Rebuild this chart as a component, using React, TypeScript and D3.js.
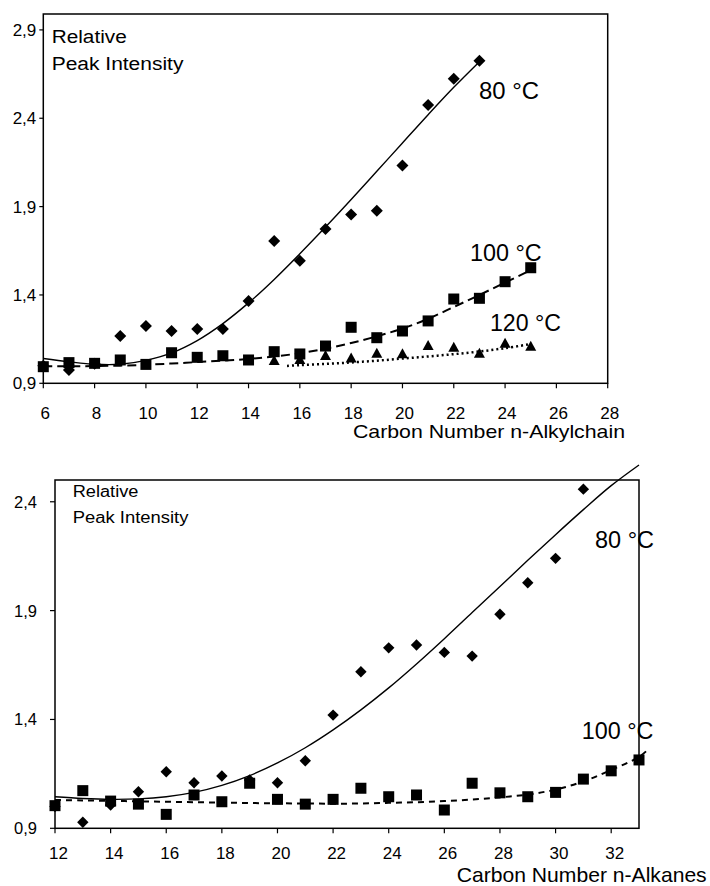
import React from "react";
import * as d3 from "d3";

// ---------- Top chart data (n-Alkylchain) ----------
const topX80 = [6, 7, 8, 9, 10, 11, 12, 13, 14, 15, 16, 17, 18, 19, 20, 21, 22, 23];
const top80 = [1.0, 0.975, 1.01, 1.168, 1.224, 1.196, 1.207, 1.207, 1.366, 1.706, 1.594, 1.773, 1.856, 1.876, 2.132, 2.475, 2.623, 2.725];
const topX100 = [6, 7, 8, 9, 10, 11, 12, 13, 14, 15, 16, 17, 18, 19, 20, 21, 22, 23, 24, 25];
const top100 = [0.994, 1.017, 1.013, 1.032, 1.007, 1.073, 1.047, 1.056, 1.032, 1.079, 1.066, 1.111, 1.217, 1.158, 1.196, 1.253, 1.377, 1.381, 1.475, 1.554];
const topX120 = [15, 16, 17, 18, 19, 20, 21, 22, 23, 24, 25];
const top120 = [1.032, 1.038, 1.06, 1.046, 1.073, 1.07, 1.117, 1.107, 1.073, 1.13, 1.113];

// trend lines
const topFit80X = [6, 7, 8, 9, 10, 11, 12, 13, 14, 15, 16, 17, 18, 19, 20, 21, 22, 23];
const topFit80 = [1.04, 1.022, 1.008, 1.008, 1.03, 1.072, 1.142, 1.238, 1.355, 1.488, 1.633, 1.784, 1.94, 2.1, 2.26, 2.42, 2.575, 2.72];
const topFit100X = [6, 7, 8, 9, 10, 11, 12, 13, 14, 15, 16, 17, 18, 19, 20, 21, 22, 23, 24, 25];
const topFit100 = [0.996, 0.996, 0.998, 1.0, 1.005, 1.012, 1.02, 1.028, 1.038, 1.052, 1.07, 1.096, 1.128, 1.166, 1.21, 1.265, 1.332, 1.4, 1.47, 1.54];
const topFit120X = [15.5, 16, 17, 18, 19, 20, 21, 22, 23, 24, 25];
const topFit120 = [0.998, 1.003, 1.01, 1.018, 1.028, 1.04, 1.052, 1.065, 1.08, 1.099, 1.122];

const topXTicks = [6, 8, 10, 12, 14, 16, 18, 20, 22, 24, 26, 28];
const topYTicks = [0.9, 1.4, 1.9, 2.4, 2.9];

// ---------- Bottom chart data (n-Alkanes) ----------
const botX80 = [12, 13, 14, 15, 16, 17, 18, 19, 20, 21, 22, 23, 24, 25, 26, 27, 28, 29, 30, 31];
const bot80 = [1.0, 0.928, 1.007, 1.068, 1.16, 1.109, 1.14, 1.122, 1.109, 1.21, 1.42, 1.619, 1.729, 1.742, 1.708, 1.691, 1.883, 2.028, 2.14, 2.458];
const botX100 = [12, 13, 14, 15, 16, 17, 18, 19, 20, 21, 22, 23, 24, 25, 26, 27, 28, 29, 30, 31, 32, 33];
const bot100 = [1.004, 1.073, 1.025, 1.011, 0.964, 1.053, 1.022, 1.107, 1.033, 1.011, 1.033, 1.084, 1.045, 1.053, 0.984, 1.107, 1.063, 1.045, 1.065, 1.126, 1.164, 1.214];

const botFit80X = [12, 13, 14, 15, 16, 17, 18, 19, 20, 21, 22, 23, 24, 25, 26, 27, 28, 29, 30, 31, 32, 33];
const botFit80 = [1.045, 1.037, 1.033, 1.035, 1.045, 1.065, 1.097, 1.142, 1.2, 1.27, 1.352, 1.444, 1.545, 1.655, 1.771, 1.891, 2.011, 2.131, 2.249, 2.364, 2.474, 2.569];
const botFit100X = [12, 13, 14, 15, 16, 17, 18, 19, 20, 21, 22, 23, 24, 25, 26, 27, 28, 29, 30, 31, 32, 33, 33.35];
const botFit100 = [1.03, 1.028, 1.026, 1.024, 1.022, 1.02, 1.018, 1.016, 1.015, 1.014, 1.013, 1.014, 1.017, 1.02, 1.025, 1.032, 1.042, 1.055, 1.078, 1.115, 1.168, 1.228, 1.265];

const botXTicks = [12, 14, 16, 18, 20, 22, 24, 26, 28, 30, 32];
const botYTicks = [0.9, 1.4, 1.9, 2.4];

const FONT = "'Liberation Sans', Arial, Helvetica, sans-serif";
const fmt = (v: number) => v.toFixed(1).replace(".", ",");

type Pt = [number, number];
const zip = (xs: number[], ys: number[]): Pt[] => xs.map((x, i) => [x, ys[i]]);

function Diamond({ cx, cy, r }: { cx: number; cy: number; r: number }) {
  return <path d={`M${cx},${cy - r}L${cx + r},${cy}L${cx},${cy + r}L${cx - r},${cy}Z`} fill="#000" />;
}
function Square({ cx, cy, s }: { cx: number; cy: number; s: number }) {
  return <rect x={cx - s / 2} y={cy - s / 2} width={s} height={s} fill="#000" />;
}
function Triangle({ cx, cy, w, h }: { cx: number; cy: number; w: number; h: number }) {
  return <path d={`M${cx},${cy - h / 2}L${cx + w / 2},${cy + h / 2}L${cx - w / 2},${cy + h / 2}Z`} fill="#000" />;
}

function Label({ x, y, size, len, children }: { x: number; y: number; size: number; len: number; children: React.ReactNode }) {
  return (
    <text x={x} y={y} fontSize={size} fontFamily={FONT} textLength={len} lengthAdjust="spacingAndGlyphs" fill="#000">
      {children}
    </text>
  );
}

export default function App() {
  // top scales
  const tx = d3.scaleLinear().domain([6, 28]).range([43.3, 607.7]);
  const ty = d3.scaleLinear().domain([0.9, 2.99]).range([383.3, 14]);
  // bottom scales
  const bx = d3.scaleLinear().domain([12, 33]).range([55, 639]);
  const by = d3.scaleLinear().domain([0.9, 2.5]).range([828.3, 480]);

  const curve = d3.curveCatmullRom.alpha(0.5);
  const tLine = d3.line<Pt>().x((d) => tx(d[0])).y((d) => ty(d[1])).curve(curve);
  const bLine = d3.line<Pt>().x((d) => bx(d[0])).y((d) => by(d[1])).curve(curve);

  const tLeft = tx(6), tRight = tx(28), tTop = ty(2.99), tBottom = ty(0.9);
  const bLeft = bx(12), bRight = bx(33), bTop = by(2.5), bBottom = by(0.9);

  return (
    <svg width={710} height={886} style={{ position: "absolute", left: 0, top: 0, background: "#fff" }}>
      <rect x={0} y={0} width={710} height={886} fill="#fff" />

      {/* ================= TOP CHART ================= */}
      <g>
        <rect x={tLeft} y={tTop} width={tRight - tLeft} height={tBottom - tTop} fill="none" stroke="#000" strokeWidth={1.5} />
        {topYTicks.map((v) => (
          <g key={"ty" + v}>
            <line x1={tLeft - 4} x2={tLeft} y1={ty(v)} y2={ty(v)} stroke="#000" strokeWidth={1.2} />
            <text x={tLeft - 7} y={ty(v)} dy="0.36em" textAnchor="end" fontSize={17} fontFamily={FONT}>
              {fmt(v)}
            </text>
          </g>
        ))}
        {topXTicks.map((v) => (
          <g key={"tx" + v}>
            <line x1={tx(v)} x2={tx(v)} y1={tBottom} y2={tBottom + 5} stroke="#000" strokeWidth={1.2} />
            <text x={tx(v) + 2} y={418.5} textAnchor="middle" fontSize={17} fontFamily={FONT}>
              {v}
            </text>
          </g>
        ))}
        <Label x={353} y={438} size={19} len={272}>Carbon Number n-Alkylchain</Label>
        <Label x={51.7} y={43.3} size={18} len={75}>Relative</Label>
        <Label x={51.7} y={70} size={18} len={131.7}>Peak Intensity</Label>

        {/* trend lines */}
        <path d={tLine(zip(topFit80X, topFit80)) || ""} fill="none" stroke="#000" strokeWidth={1.4} />
        <path d={tLine(zip(topFit100X, topFit100)) || ""} fill="none" stroke="#000" strokeWidth={2} strokeDasharray="9,5" />
        <path d={tLine(zip(topFit120X, topFit120)) || ""} fill="none" stroke="#000" strokeWidth={2.5} strokeDasharray="2,3" />

        {/* markers */}
        {topX80.map((x, i) => (
          <Diamond key={"td" + i} cx={tx(x)} cy={ty(top80[i])} r={6} />
        ))}
        {topX120.map((x, i) => (
          <Triangle key={"tt" + i} cx={tx(x)} cy={ty(top120[i])} w={11} h={10} />
        ))}
        {topX100.map((x, i) => (
          <Square key={"ts" + i} cx={tx(x)} cy={ty(top100[i])} s={11} />
        ))}

        <Label x={479} y={99} size={24} len={60}>80 °C</Label>
        <Label x={470} y={261} size={23} len={71.7}>100 °C</Label>
        <Label x={490} y={331} size={23} len={71}>120 °C</Label>
      </g>

      {/* ================= BOTTOM CHART ================= */}
      <g>
        <rect x={bLeft} y={bTop} width={bRight - bLeft} height={bBottom - bTop} fill="none" stroke="#000" strokeWidth={1.5} />
        {botYTicks.map((v) => (
          <g key={"by" + v}>
            <line x1={bLeft - 5} x2={bLeft} y1={by(v)} y2={by(v)} stroke="#000" strokeWidth={1.2} />
            <text x={37} y={by(v)} dy="0.36em" textAnchor="end" fontSize={16.5} fontFamily={FONT}>
              {fmt(v)}
            </text>
          </g>
        ))}
        {botXTicks.map((v) => (
          <g key={"bx" + v}>
            <line x1={bx(v)} x2={bx(v)} y1={bBottom} y2={bBottom + 5} stroke="#000" strokeWidth={1.2} />
            <text x={bx(v) + 3.5} y={859.3} textAnchor="middle" fontSize={17} fontFamily={FONT}>
              {v}
            </text>
          </g>
        ))}
        <Label x={456.7} y={881.7} size={21} len={250}>Carbon Number n-Alkanes</Label>
        <Label x={72.7} y={497.3} size={16} len={65.7}>Relative</Label>
        <Label x={72.7} y={522.7} size={16} len={115.7}>Peak Intensity</Label>

        <path d={bLine(zip(botFit80X, botFit80)) || ""} fill="none" stroke="#000" strokeWidth={1.4} />
        <path d={bLine(zip(botFit100X, botFit100)) || ""} fill="none" stroke="#000" strokeWidth={2} strokeDasharray="6,5" />

        {botX80.map((x, i) => (
          <Diamond key={"bd" + i} cx={bx(x)} cy={by(bot80[i])} r={5.7} />
        ))}
        {botX100.map((x, i) => (
          <Square key={"bs" + i} cx={bx(x)} cy={by(bot100[i])} s={11} />
        ))}

        <Label x={595} y={548.3} size={24} len={59}>80 °C</Label>
        <Label x={581.7} y={739} size={23} len={71.7}>100 °C</Label>
      </g>
    </svg>
  );
}
